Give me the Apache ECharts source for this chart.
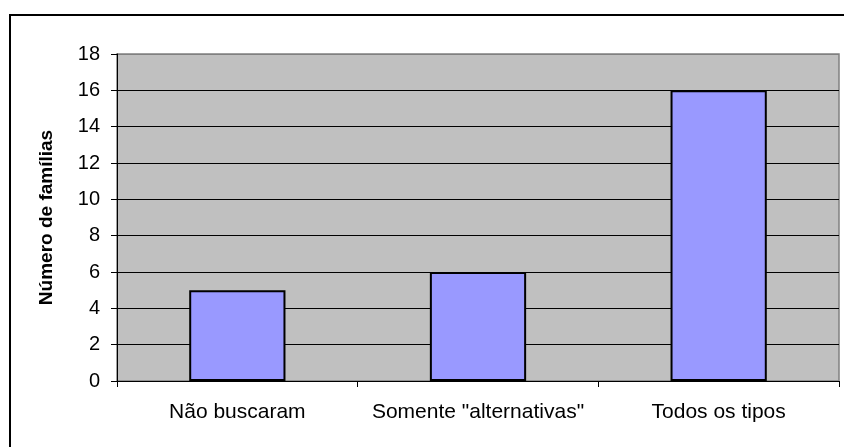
<!DOCTYPE html>
<html>
<head>
<meta charset="utf-8">
<script src="https://cdn.jsdelivr.net/npm/echarts@6/dist/echarts.min.js"></script>
<style>
  html, body { margin: 0; padding: 0; background: #fff; }
  #chart { width: 844px; height: 447px; }
</style>
</head>
<body>
<div id="chart"></div>
<script>
const categories = ['Não buscaram', 'Somente "alternativas"', 'Todos os tipos'];
const familias = [5, 6, 16];
const yName = 'Número de famílias';

const chart = echarts.init(document.getElementById('chart'));
const font = '"Liberation Sans", Arial, sans-serif';

// grid lines are black, the top one is the plot border (gray)
const splitColors = ['#000', '#000', '#000', '#000', '#000', '#000', '#000', '#000', '#000', '#808080'];

chart.setOption({
  animation: false,
  graphic: [{
    type: 'rect',
    shape: { x: 10, y: 15, width: 900, height: 500 },
    style: { fill: 'none', stroke: '#000', lineWidth: 2 },
    silent: true
  }],
  grid: {
    left: 117,
    right: 5,
    top: 54,
    bottom: 66,
    show: true,
    backgroundColor: '#c0c0c0',
    borderColor: '#808080',
    borderWidth: 1.5
  },
  xAxis: {
    type: 'category',
    data: categories,
    axisLine: { lineStyle: { color: '#000', width: 1 } },
    axisTick: { show: true, length: 6, interval: 0, alignWithLabel: false, lineStyle: { color: '#000' } },
    axisLabel: { color: '#000', fontFamily: font, fontSize: 21, margin: 21, interval: 0 },
    splitLine: { show: false }
  },
  yAxis: {
    type: 'value',
    min: 0,
    max: 18,
    interval: 2,
    name: yName,
    nameLocation: 'middle',
    nameGap: 61,
    nameTextStyle: { color: '#000', fontFamily: font, fontSize: 19, fontWeight: 'bold' },
    axisLine: { show: true, lineStyle: { color: '#000', width: 1 } },
    axisTick: { show: true, length: 6, lineStyle: { color: '#000' } },
    axisLabel: { color: '#000', fontFamily: font, fontSize: 20, margin: 17 },
    splitLine: { show: true, lineStyle: { color: splitColors, width: 1 } }
  },
  series: [{
    type: 'bar',
    data: familias,
    barWidth: '40%',
    itemStyle: {
      color: '#9999ff',
      borderColor: '#000',
      borderWidth: 2
    }
  }]
});
</script>
</body>
</html>
